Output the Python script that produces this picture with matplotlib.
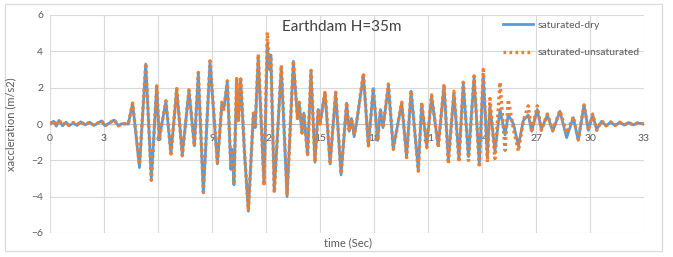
import matplotlib
matplotlib.use("Agg")
import matplotlib.pyplot as plt
from matplotlib.patches import Rectangle

plt.rcParams['font.family'] = ['Lato', 'DejaVu Sans']

# extrema (time in s, acceleration in m/s2)
t_sec = [0.0, 0.2, 0.35, 0.5, 0.7, 0.9, 1.05, 1.3, 1.5, 1.7, 1.95, 2.2, 2.45, 2.65,
         2.87, 3.05, 3.3, 3.56, 3.8, 4.0, 4.35, 4.59, 4.97, 5.32, 5.63, 5.93, 6.07,
         6.44, 6.72, 7.04, 7.35, 7.72, 8.02, 8.24, 8.52, 8.89, 9.3, 9.55, 9.65, 9.72,
         9.85, 10.05, 10.13, 10.22, 10.37, 10.47, 10.59, 10.8, 11.02, 11.3, 11.4,
         11.57, 11.89, 12.07, 12.19, 12.27, 12.46, 12.85, 13.17, 13.52, 13.75, 13.85,
         14.0, 14.1, 14.31, 14.5, 14.72, 14.9, 15.0, 15.28, 15.56, 15.87, 16.17,
         16.48, 16.62, 16.75, 16.9, 17.05, 17.41, 17.69, 17.96, 18.2, 18.36, 18.5,
         18.8, 19.07, 19.54, 19.81, 20.06, 20.46, 20.65, 20.93, 21.2, 21.57, 21.89,
         22.13, 22.44, 22.72, 22.96, 23.25, 23.56, 23.85, 24.07, 24.3, 24.44, 24.72,
         25.0, 25.28, 25.46, 25.75, 26.02, 26.3, 26.57, 26.76, 27.07, 27.3, 27.63,
         27.93, 28.33, 28.7, 29.07, 29.35, 29.67, 29.91, 30.15, 30.37, 30.65, 30.9,
         31.15, 31.4, 31.65, 31.9, 32.15, 32.4, 32.65, 33.0]

acc_unsat = [0.0, 0.18, -0.1, 0.22, -0.05, 0.1, -0.08, 0.08, -0.05, 0.13, -0.05, 0.1,
             -0.08, 0.05, 0.18, -0.1, 0.05, 0.24, -0.1, 0.02, 0.0, 1.15, -2.25, 3.35,
             -3.1, 2.1, -0.8, 1.28, -1.65, 1.95, -1.75, 1.88, -1.25, 2.84, -3.75, 3.48,
             -2.1, 1.2, 0.8, 1.3, 2.38, -2.4, -1.4, -3.2, 2.5, 0.2, 2.6, -1.5, -4.75,
             0.6, -0.2, 3.85, -3.4, 5.05, 3.0, 3.7, -3.8, 3.25, -3.85, 3.5, 0.3, 1.2,
             -0.5, 0.6, -1.75, 2.95, -2.0, 0.8, 0.0, 1.8, -2.1, 1.75, -2.75, 1.2, -0.4,
             0.3, -0.6, 0.2, 2.8, -1.2, 2.0, -0.9, 0.8, -0.2, 2.2, -1.4, 1.2, -1.85,
             1.85, -2.6, 1.2, -1.3, 1.6, -1.3, 2.2, -2.2, 1.8, -2.1, 2.3, -2.0, 2.65,
             -2.4, 3.0, -2.1, 1.4, -1.9, 2.3, -1.45, 1.35, -0.3, -1.5, 0.2, 1.0, -0.45,
             1.0, -0.35, 0.55, -0.35, 0.75, -0.5, 0.4, -0.85, 1.05, -0.35, 0.55, -0.35,
             0.18, -0.1, 0.12, -0.08, 0.1, -0.06, 0.08, -0.05, 0.06, 0.0]

acc_dry = [0.0, 0.15, -0.12, 0.2, -0.1, 0.1, -0.1, 0.05, -0.08, 0.12, -0.05, 0.1,
           -0.08, 0.05, 0.17, -0.1, 0.05, 0.22, -0.1, 0.02, 0.0, 1.15, -2.4, 3.3,
           -3.0, 2.05, -0.8, 1.25, -1.65, 1.9, -1.7, 1.85, -1.2, 2.75, -3.8, 3.4,
           -2.2, 1.1, 0.8, 1.3, 2.3, -2.5, -1.4, -3.35, 2.4, 0.2, 2.5, -1.5, -4.8,
           0.55, -0.2, 3.7, -3.3, 4.4, 3.0, 3.8, -3.7, 3.1, -4.0, 3.45, 0.3, 1.1,
           -0.5, 0.6, -1.7, 2.85, -2.1, 0.8, 0.0, 1.75, -2.2, 1.7, -2.8, 1.15, -0.4,
           0.3, -0.7, 0.2, 2.7, -1.2, 1.95, -0.9, 0.8, -0.2, 2.1, -1.35, 1.15, -1.8,
           1.8, -2.5, 1.1, -1.2, 1.5, -1.2, 2.1, -2.0, 1.7, -1.9, 2.2, -1.8, 2.55,
           -2.2, 2.7, -1.8, 1.0, -1.5, 0.8, -0.6, 0.5, 0.0, -1.2, 0.2, 0.5, -0.4,
           0.8, -0.3, 0.5, -0.4, 0.7, -0.75, 0.35, -0.9, 1.05, -0.35, 0.5, -0.3,
           0.15, -0.1, 0.1, -0.08, 0.1, -0.06, 0.08, -0.05, 0.06, 0.0]

x_ticks = [0, 3, 6, 9, 12, 15, 18, 21, 24, 27, 30, 33]
y_ticks = [-6, -4, -2, 0, 2, 4, 6]

text_col = '#595959'
grid_col = '#d9d9d9'

fig = plt.figure(figsize=(6.73, 2.57), dpi=100)
ax = fig.add_axes([50 / 673, 1 - 233 / 257, 594 / 673, 218 / 257])

# outer chart border
fig.patches.append(Rectangle((5 / 673, 1 - 251 / 257), 657 / 673, 247 / 257,
                             transform=fig.transFigure, fill=False,
                             edgecolor=grid_col, linewidth=0.9))

ax.plot(t_sec, acc_dry, color='#5B9BD5', lw=2.0, label='saturated-dry', zorder=3)
ax.plot(t_sec, acc_unsat, color='#ED7D31', lw=2.4, linestyle=(0, (0.8, 1.0)),
        label='saturated-unsaturated', zorder=4)

ax.set_xlim(0, 33)
ax.set_ylim(-6, 6)
ax.set_xticks(x_ticks)
ax.set_yticks(y_ticks)
ax.grid(True, color=grid_col, lw=0.8)
ax.set_axisbelow(True)

for s in ['top', 'right', 'left']:
    ax.spines[s].set_visible(False)
ax.spines['bottom'].set_position(('data', 0))
ax.spines['bottom'].set_color('#bfbfbf')
ax.spines['bottom'].set_linewidth(0.8)
ax.tick_params(length=0, labelsize=7.5, labelcolor=text_col)
ax.tick_params(axis='x', pad=7)
ax.tick_params(axis='y', pad=5)

ax.text(0.492, 0.945, 'Earthdam H=35m', transform=ax.transAxes, ha='center',
        va='center', fontsize=11, color='#404040')

fig.text(348 / 673, 1 - 243 / 257, 'time (Sec)', ha='center', va='center',
         fontsize=8, color=text_col)
fig.text(11 / 673, 1 - 124 / 257, 'xaccleration (m/s2)', ha='center', va='center',
         rotation=90, fontsize=8, color=text_col)

ax.legend(loc='upper left', bbox_to_anchor=(0.7626, 0.975), frameon=False,
          fontsize=7.5, handlelength=2.9, handletextpad=0.4, labelspacing=1.75,
          borderpad=0, borderaxespad=0, labelcolor=text_col)

fig.savefig('out.png', dpi=100)
